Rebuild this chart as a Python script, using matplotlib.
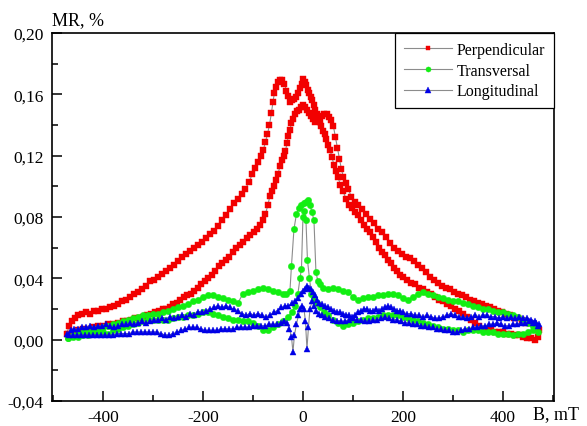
import matplotlib.pyplot as plt
from matplotlib.ticker import MultipleLocator, FuncFormatter

# Perpendicular (red squares): sweep up, then sweep down
perp_up_b = [-472, -468, -463, -457, -450, -442, -434, -426, -418, -410, -402, -394, -386, -378, -370,
             -362, -354, -346, -338, -330, -322, -314, -306, -298, -290, -282, -274, -266, -258, -250,
             -242, -234, -226, -218, -210, -202, -194, -186, -178, -170, -162, -154, -146, -138, -130,
             -122, -115, -108, -101, -95, -89, -84, -79, -75, -71, -67, -63, -60, -57, -53, -49, -45,
             -41, -37, -33, -29, -25, -21, -17, -13, -9, -5, -2, 1, 4, 7, 10, 13, 16, 19, 22, 25, 28,
             31, 34, 37, 41, 44, 47, 50, 54, 58, 62, 66, 70, 75, 80, 86, 92, 98, 104, 110, 116, 122,
             128, 134, 140, 146, 152, 158, 164, 170, 176, 182, 188, 194, 200, 208, 216, 224, 232, 240,
             248, 256, 264, 272, 280, 288, 296, 304, 312, 320, 328, 336, 344, 352, 360, 368, 376, 384,
             392, 400, 408, 416, 424, 432, 440, 448, 456, 464, 470]
perp_up_mr = [0.004, 0.009, 0.012, 0.014, 0.016, 0.017, 0.018, 0.017, 0.019, 0.019, 0.020, 0.020, 0.021,
              0.022, 0.023, 0.025, 0.026, 0.028, 0.030, 0.031, 0.033, 0.035, 0.038, 0.039, 0.041, 0.043,
              0.045, 0.047, 0.049, 0.051, 0.054, 0.056, 0.058, 0.060, 0.062, 0.064, 0.066, 0.069, 0.071,
              0.074, 0.078, 0.081, 0.085, 0.089, 0.092, 0.095, 0.098, 0.103, 0.108, 0.112, 0.116, 0.120,
              0.124, 0.129, 0.134, 0.140, 0.148, 0.155, 0.161, 0.165, 0.168, 0.169, 0.169, 0.167, 0.162,
              0.159, 0.155, 0.156, 0.157, 0.158, 0.161, 0.164, 0.167, 0.170, 0.168, 0.166, 0.163, 0.161,
              0.158, 0.156, 0.153, 0.150, 0.147, 0.144, 0.142, 0.139, 0.136, 0.134, 0.131, 0.127, 0.124,
              0.119, 0.114, 0.110, 0.106, 0.101, 0.097, 0.092, 0.088, 0.086, 0.083, 0.081, 0.078, 0.075,
              0.072, 0.070, 0.067, 0.064, 0.060, 0.057, 0.055, 0.052, 0.050, 0.047, 0.045, 0.042, 0.041,
              0.039, 0.037, 0.036, 0.034, 0.033, 0.031, 0.030, 0.028, 0.026, 0.025, 0.023, 0.022, 0.020,
              0.019, 0.017, 0.015, 0.013, 0.011, 0.009, 0.007, 0.006, 0.006, 0.005, 0.005, 0.005, 0.004,
              0.004, 0.003, 0.003, 0.002, 0.001, 0.001, 0.000, 0.002]
perp_down_b = [472, 468, 462, 455, 447, 439, 431, 423, 415, 407, 399, 391, 383, 375, 367, 359, 351, 343,
               335, 327, 319, 311, 303, 295, 287, 279, 271, 263, 255, 247, 239, 231, 223, 215, 207, 199,
               191, 183, 175, 167, 159, 151, 143, 135, 127, 119, 111, 104, 97, 91, 86, 81, 77, 73, 69,
               65, 61, 57, 53, 48, 43, 38, 33, 28, 24, 20, 16, 12, 8, 4, 0, -4, -8, -12, -16, -20, -23,
               -26, -29, -32, -35, -38, -42, -46, -50, -54, -58, -62, -66, -70, -75, -80, -86, -92, -98,
               -105, -112, -119, -126, -133, -140, -147, -154, -161, -168, -175, -182, -189, -196, -203,
               -210, -217, -224, -231, -238, -245, -252, -259, -266, -273, -280, -288, -296, -304, -312,
               -320, -328, -336, -344, -352, -360, -370, -380, -390, -400, -410, -420, -430, -440, -450,
               -460, -470]
perp_down_mr = [0.006, 0.008, 0.010, 0.011, 0.011, 0.013, 0.014, 0.014, 0.016, 0.017, 0.018, 0.019, 0.020,
                0.021, 0.022, 0.023, 0.024, 0.025, 0.026, 0.028, 0.029, 0.030, 0.031, 0.033, 0.034, 0.035,
                0.037, 0.039, 0.041, 0.044, 0.047, 0.049, 0.051, 0.053, 0.054, 0.056, 0.058, 0.060, 0.063,
                0.067, 0.070, 0.072, 0.076, 0.079, 0.082, 0.085, 0.088, 0.090, 0.093, 0.098, 0.102, 0.106,
                0.111, 0.118, 0.125, 0.132, 0.139, 0.143, 0.145, 0.147, 0.147, 0.146, 0.145, 0.143, 0.142,
                0.144, 0.146, 0.148, 0.150, 0.152, 0.153, 0.152, 0.150, 0.149, 0.147, 0.144, 0.141, 0.137,
                0.133, 0.128, 0.123, 0.120, 0.117, 0.113, 0.108, 0.104, 0.100, 0.097, 0.094, 0.088, 0.082,
                0.078, 0.075, 0.072, 0.070, 0.068, 0.066, 0.064, 0.062, 0.060, 0.057, 0.054, 0.052, 0.050,
                0.048, 0.045, 0.042, 0.040, 0.038, 0.036, 0.034, 0.032, 0.030, 0.029, 0.028, 0.026, 0.024,
                0.023, 0.021, 0.020, 0.020, 0.019, 0.018, 0.017, 0.016, 0.015, 0.014, 0.014, 0.013, 0.012,
                0.012, 0.011, 0.010, 0.010, 0.009, 0.009, 0.008, 0.007, 0.007, 0.006, 0.005, 0.004]

# Transversal (green circles)
trans_up_b = [-470, -460, -450, -440, -430, -420, -410, -400, -390, -380, -370, -360, -350, -340, -330,
              -320, -310, -300, -290, -280, -270, -260, -250, -240, -230, -220, -210, -200, -190, -180,
              -170, -160, -150, -140, -130, -120, -110, -100, -90, -80, -70, -60, -50, -40, -33, -26, -23,
              -18, -13, -8, -3, 2, 6, 10, 14, 18, 22, 26, 30, 35, 40, 50, 60, 70, 80, 90, 100, 110, 120,
              130, 140, 150, 160, 170, 180, 190, 200, 210, 220, 230, 240, 250, 260, 270, 280, 290, 300,
              310, 320, 330, 340, 350, 360, 370, 380, 390, 400, 410, 420, 430, 440, 450, 460]
trans_up_mr = [0.001, 0.003, 0.004, 0.005, 0.005, 0.006, 0.007, 0.008, 0.009, 0.010, 0.011, 0.012, 0.013,
               0.014, 0.015, 0.016, 0.016, 0.017, 0.017, 0.018, 0.019, 0.020, 0.021, 0.022, 0.023, 0.025,
               0.026, 0.028, 0.029, 0.029, 0.028, 0.027, 0.026, 0.025, 0.024, 0.030, 0.031, 0.032, 0.033,
               0.034, 0.033, 0.032, 0.031, 0.030, 0.030, 0.032, 0.048, 0.072, 0.082, 0.086, 0.088, 0.089,
               0.090, 0.091, 0.088, 0.083, 0.078, 0.044, 0.038, 0.036, 0.034, 0.033, 0.034, 0.033, 0.032,
               0.031, 0.028, 0.026, 0.027, 0.028, 0.028, 0.029, 0.029, 0.030, 0.030, 0.029, 0.027, 0.026,
               0.028, 0.030, 0.031, 0.030, 0.029, 0.028, 0.027, 0.026, 0.025, 0.025, 0.024, 0.023, 0.022,
               0.021, 0.020, 0.020, 0.019, 0.018, 0.018, 0.017, 0.016, 0.015, 0.013, 0.011, 0.009]
trans_down_b = [470, 460, 450, 440, 430, 420, 410, 400, 390, 380, 370, 360, 350, 340, 330, 320, 310, 300,
                290, 280, 270, 260, 250, 240, 230, 220, 210, 200, 190, 180, 170, 160, 150, 140, 130, 120,
                110, 100, 90, 80, 70, 60, 50, 42, 35, 28, 22, 17, 13, 9, 6, 3, 0, -3, -6, -10, -15, -22,
                -30, -40, -50, -60, -70, -80, -90, -100, -110, -120, -130, -140, -150, -160, -170, -180,
                -190, -200, -210, -220, -230, -240, -250, -260, -270, -280, -290, -300, -310, -320, -330,
                -340, -350, -360, -370, -380, -390, -400, -410, -420, -430, -440, -450, -460, -470]
trans_down_mr = [0.005, 0.006, 0.005, 0.004, 0.004, 0.003, 0.004, 0.004, 0.004, 0.005, 0.005, 0.005, 0.006,
                 0.006, 0.006, 0.005, 0.006, 0.006, 0.007, 0.007, 0.008, 0.009, 0.010, 0.011, 0.012, 0.013,
                 0.014, 0.015, 0.016, 0.016, 0.016, 0.016, 0.015, 0.014, 0.014, 0.013, 0.012, 0.011, 0.010,
                 0.009, 0.011, 0.013, 0.016, 0.018, 0.021, 0.024, 0.027, 0.030, 0.040, 0.052, 0.078, 0.084,
                 0.080, 0.046, 0.040, 0.030, 0.022, 0.018, 0.015, 0.012, 0.010, 0.008, 0.006, 0.006, 0.009,
                 0.011, 0.012, 0.012, 0.013, 0.013, 0.014, 0.015, 0.016, 0.017, 0.018, 0.018, 0.017, 0.016,
                 0.016, 0.015, 0.015, 0.014, 0.013, 0.013, 0.013, 0.013, 0.013, 0.012, 0.011, 0.010, 0.009,
                 0.008, 0.007, 0.006, 0.004, 0.005, 0.005, 0.004, 0.003, 0.003, 0.002, 0.002, 0.001]

# Longitudinal (blue triangles)
long_up_b = [-472, -465, -458, -450, -442, -434, -426, -418, -410, -402, -394, -386, -378, -370, -362,
             -354, -346, -338, -330, -322, -314, -306, -298, -290, -282, -274, -266, -258, -250, -242,
             -234, -226, -218, -210, -202, -194, -186, -178, -170, -162, -154, -146, -138, -130, -122,
             -114, -106, -98, -90, -82, -74, -66, -58, -50, -43, -36, -29, -22, -15, -9, -4, 0, 4, 8, 12,
             16, 20, 24, 28, 33, 38, 44, 50, 56, 62, 68, 74, 80, 86, 92, 98, 104, 110, 116, 122, 128,
             134, 140, 146, 152, 158, 164, 170, 176, 182, 188, 194, 200, 208, 216, 224, 232, 240, 248,
             256, 264, 272, 280, 288, 296, 304, 312, 320, 328, 336, 344, 352, 360, 368, 376, 384, 392,
             400, 408, 416, 424, 432, 440, 448, 456, 464, 470]
long_up_mr = [0.004, 0.006, 0.007, 0.007, 0.008, 0.008, 0.009, 0.008, 0.009, 0.009, 0.010, 0.009, 0.008,
              0.009, 0.010, 0.010, 0.011, 0.010, 0.011, 0.012, 0.011, 0.012, 0.013, 0.013, 0.014, 0.013,
              0.015, 0.014, 0.015, 0.016, 0.015, 0.017, 0.016, 0.018, 0.018, 0.019, 0.020, 0.021, 0.022,
              0.021, 0.022, 0.021, 0.020, 0.019, 0.017, 0.016, 0.017, 0.016, 0.017, 0.016, 0.015, 0.016,
              0.018, 0.019, 0.021, 0.022, 0.022, 0.024, 0.025, 0.027, 0.030, 0.032, 0.033, 0.035, 0.034,
              0.033, 0.031, 0.029, 0.026, 0.024, 0.023, 0.022, 0.021, 0.020, 0.019, 0.018, 0.018, 0.017,
              0.016, 0.016, 0.015, 0.016, 0.018, 0.019, 0.020, 0.020, 0.019, 0.019, 0.020, 0.019, 0.020,
              0.021, 0.022, 0.021, 0.020, 0.019, 0.019, 0.018, 0.017, 0.017, 0.016, 0.016, 0.015, 0.016,
              0.015, 0.014, 0.014, 0.015, 0.016, 0.017, 0.016, 0.015, 0.015, 0.014, 0.015, 0.016, 0.015,
              0.016, 0.016, 0.015, 0.015, 0.014, 0.015, 0.014, 0.015, 0.014, 0.015, 0.014, 0.014, 0.013,
              0.012, 0.009]
long_down_b = [472, 466, 460, 452, 444, 436, 428, 420, 412, 404, 396, 388, 380, 372, 364, 356, 348, 340,
               332, 324, 316, 308, 300, 292, 284, 276, 268, 260, 252, 244, 236, 228, 220, 212, 204, 196,
               188, 180, 172, 164, 156, 148, 140, 132, 124, 116, 108, 100, 92, 84, 76, 68, 60, 52, 44,
               38, 32, 27, 22, 18, 14, 11, 8, 5, 2, -1, -5, -9, -13, -17, -20, -23, -27, -32, -38, -44,
               -52, -60, -68, -76, -84, -92, -100, -108, -116, -124, -132, -140, -148, -156, -164, -172,
               -180, -188, -196, -204, -212, -220, -228, -236, -244, -252, -260, -268, -276, -284, -292,
               -300, -308, -316, -324, -332, -340, -348, -356, -364, -372, -380, -388, -396, -404, -412,
               -420, -428, -436, -444, -452, -460, -468]
long_down_mr = [0.010, 0.011, 0.011, 0.012, 0.011, 0.011, 0.010, 0.010, 0.009, 0.009, 0.010, 0.011, 0.010,
                0.010, 0.009, 0.009, 0.008, 0.008, 0.007, 0.007, 0.006, 0.005, 0.005, 0.006, 0.006, 0.007,
                0.007, 0.008, 0.008, 0.009, 0.009, 0.010, 0.010, 0.011, 0.011, 0.012, 0.013, 0.013, 0.014,
                0.015, 0.014, 0.013, 0.013, 0.012, 0.012, 0.013, 0.013, 0.014, 0.013, 0.012, 0.012, 0.012,
                0.013, 0.014, 0.015, 0.016, 0.017, 0.019, 0.022, 0.025, 0.020, 0.008, -0.006, 0.012, 0.020,
                0.022, 0.020, 0.016, 0.010, 0.003, -0.008, 0.002, 0.007, 0.011, 0.012, 0.011, 0.010, 0.010,
                0.010, 0.009, 0.009, 0.009, 0.009, 0.008, 0.008, 0.008, 0.008, 0.007, 0.007, 0.007, 0.007,
                0.006, 0.006, 0.006, 0.006, 0.007, 0.008, 0.008, 0.008, 0.007, 0.006, 0.005, 0.004, 0.003,
                0.003, 0.004, 0.005, 0.005, 0.005, 0.005, 0.005, 0.005, 0.005, 0.004, 0.004, 0.004, 0.004,
                0.003, 0.003, 0.003, 0.003, 0.003, 0.003, 0.003, 0.003, 0.003, 0.003, 0.003, 0.003]

plt.rcParams['font.family'] = ['Liberation Serif', 'DejaVu Serif']
plt.rcParams['axes.unicode_minus'] = False

fig = plt.figure(figsize=(5.87, 4.27), dpi=100)
ax = fig.add_axes([0.0886, 0.0585, 0.855, 0.862])

series = [
    ("Perpendicular", perp_up_b + perp_down_b, perp_up_mr + perp_down_mr, "s", "#f20000", 4.2),
    ("Transversal", trans_up_b + trans_down_b, trans_up_mr + trans_down_mr, "o", "#12ee12", 4.6),
    ("Longitudinal", long_up_b + long_down_b, long_up_mr + long_down_mr, "^", "#0000e6", 4.8),
]
for name, b, mr, mk, col, ms in series:
    ax.plot(b, mr, color="#8c8c8c", linewidth=0.8, marker=mk, markersize=ms,
            markerfacecolor=col, markeredgecolor=col, markeredgewidth=0.3, label=name)

ax.set_xlim(-502, 502)
ax.set_ylim(-0.04, 0.20)
ax.xaxis.set_major_locator(MultipleLocator(200))
ax.xaxis.set_minor_locator(MultipleLocator(100))
ax.yaxis.set_major_locator(MultipleLocator(0.04))
ax.yaxis.set_minor_locator(MultipleLocator(0.02))
ax.yaxis.set_major_formatter(FuncFormatter(lambda v, p: f"{v:.2f}".replace(".", ",")))
ax.xaxis.set_major_formatter(FuncFormatter(lambda v, p: f"{v:.0f}"))
ax.tick_params(which="both", direction="in", top=False, right=False, labelsize=12.5, width=1.1)
ax.tick_params(which="major", length=7, pad=6)
ax.tick_params(which="minor", length=4)
for s in ax.spines.values():
    s.set_linewidth(1.2)

leg = ax.legend(loc="upper right", bbox_to_anchor=(1.0, 1.0), borderaxespad=0, fontsize=11.5,
                fancybox=False, edgecolor="black", framealpha=1, numpoints=1, markerscale=0.8,
                handlelength=3.0, handletextpad=0.3, labelspacing=0.3, borderpad=0.55)
leg.get_frame().set_linewidth(0.9)

fig.text(52 / 587, 1 - 21 / 427, "MR, %", ha="left", va="center", fontsize=13)
fig.text(533 / 587, 1 - 415 / 427, "B, mT", ha="left", va="center", fontsize=13)

plt.savefig("out.png", dpi=100)
